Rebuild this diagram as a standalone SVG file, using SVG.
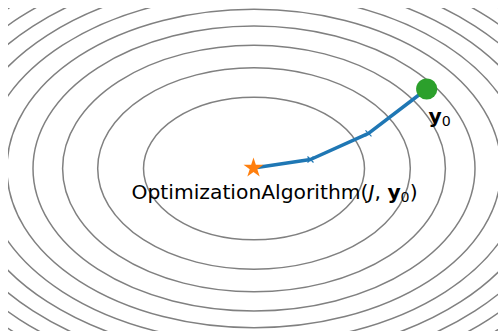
<svg xmlns="http://www.w3.org/2000/svg" width="498" height="331" viewBox="0 0 498 331">
  <style>
    .contour { fill: none; stroke: #808080; stroke-width: 1.5; }
    .path { fill: none; stroke: #1f77b4; stroke-width: 3.5; stroke-linecap: round; stroke-linejoin: round; }
    .tick { fill: none; stroke: #1f77b4; stroke-width: 1.2; }
    .label { font-family: "DejaVu Sans", "Liberation Sans", sans-serif; font-size: 20.3px; fill: #000; }
    .bold { font-weight: bold; }
    .it { font-style: italic; }
    .sub { font-size: 14.2px; font-weight: normal; }
  </style>
  <defs>
    <clipPath id="axes">
      <rect x="8" y="8" width="492" height="323"/>
    </clipPath>
  </defs>
  <rect width="498" height="331" fill="#ffffff"/>

  <!-- level sets of the quadratic objective, radii grow with sqrt(level) -->
  <g id="contours" clip-path="url(#axes)">
    <ellipse class="contour" cx="254" cy="168.5" rx="110.5" ry="71.2"/>
    <ellipse class="contour" cx="254" cy="168.5" rx="156.3" ry="100.7"/>
    <ellipse class="contour" cx="254" cy="168.5" rx="191.4" ry="123.3"/>
    <ellipse class="contour" cx="254" cy="168.5" rx="221" ry="142.4"/>
    <ellipse class="contour" cx="254" cy="168.5" rx="247.1" ry="159.2"/>
    <ellipse class="contour" cx="254" cy="168.5" rx="270.7" ry="174.4"/>
    <ellipse class="contour" cx="254" cy="168.5" rx="292.4" ry="188.4"/>
    <ellipse class="contour" cx="254" cy="168.5" rx="312.5" ry="201.4"/>
    <ellipse class="contour" cx="254" cy="168.5" rx="331.5" ry="213.6"/>
    <ellipse class="contour" cx="254" cy="168.5" rx="349.4" ry="225.2"/>
    <ellipse class="contour" cx="254" cy="168.5" rx="366.5" ry="236.1"/>
    <ellipse class="contour" cx="254" cy="168.5" rx="382.8" ry="246.6"/>
  </g>

  <!-- optimisation trajectory from the start point to the optimum -->
  <g id="connectors">
    <polyline class="path" points="426.7,89 368.5,133.3 310.5,159.5 253.5,168"/>
    <path class="tick" d="M365.5,130.3 l6,6 M371.5,130.3 l-6,6"/>
    <path class="tick" d="M307.5,156.5 l6,6 M313.5,156.5 l-6,6"/>
  </g>

  <g id="start">
    <circle cx="426.7" cy="89" r="10.6" fill="#2ca02c"/>
    <text class="label" x="428.5" y="122.8"><tspan class="bold">y</tspan><tspan class="sub" dy="3">0</tspan></text>
  </g>

  <g id="optimum">
    <path transform="translate(253.5,168)" fill="#ff7f0e"
          d="M0,-10.5 L2.357,-3.244 L9.986,-3.245 L3.814,1.239 L6.172,8.495 L0,4.01 L-6.172,8.495 L-3.814,1.239 L-9.986,-3.245 L-2.357,-3.244 Z"/>
  </g>

  <g id="algorithm">
    <text class="label" x="131.5" y="199">OptimizationAlgorithm(<tspan class="it">J</tspan>, <tspan class="bold">y</tspan><tspan class="sub" dy="3">0</tspan><tspan dy="-3">)</tspan></text>
  </g>
</svg>
